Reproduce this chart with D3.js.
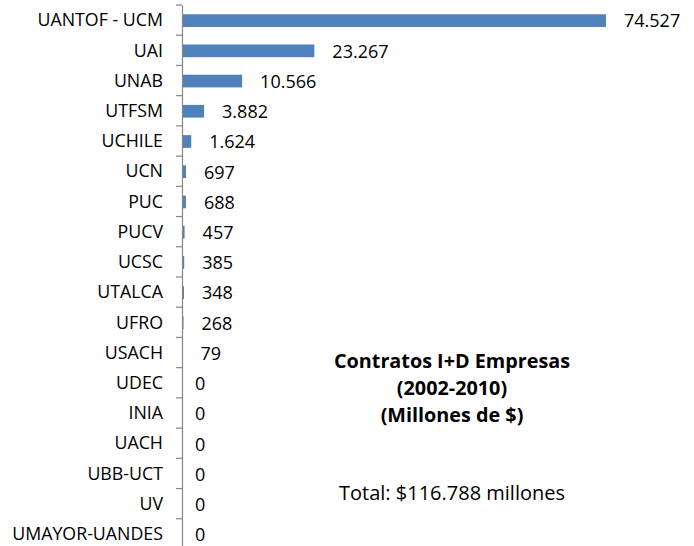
<!DOCTYPE html>
<html>
<head>
<meta charset="utf-8">
<script src="https://cdn.jsdelivr.net/npm/d3@7"></script>
<style>
  html, body { margin: 0; padding: 0; background: #fff; }
  svg { display: block; }
</style>
</head>
<body>
<svg id="chart" width="694" height="546"></svg>
<script>
const categories = ["UANTOF - UCM","UAI","UNAB","UTFSM","UCHILE","UCN","PUC","PUCV","UCSC","UTALCA","UFRO","USACH","UDEC","INIA","UACH","UBB-UCT","UV","UMAYOR-UANDES"];
const values = [74527,23267,10566,3882,1624,697,688,457,385,348,268,79,0,0,0,0,0,0];
const titleLines = ["Contratos I+D Empresas","(2002-2010)","(Millones de $)"];
const totalLabel = "Total: $116.788 millones";

const svg = d3.select("#chart");
const locale = d3.formatLocale({decimal: ",", thousands: ".", grouping: [3], currency: ["$", ""]});
const fmt = locale.format(",d");

const x = d3.scaleLinear().domain([0, d3.max(values)]).range([182, 606]);
const y = d3.scaleBand().domain(categories).range([5, 549]).padding(0);

const barH = y.bandwidth() * 0.42;

// bars
svg.append("g").selectAll("rect").data(values).join("rect")
  .attr("x", x(0))
  .attr("y", (d, i) => y(categories[i]) + (y.bandwidth() - barH) / 2 + 0.5)
  .attr("width", d => x(d) - x(0))
  .attr("height", barH)
  .attr("fill", "#4F81BD");

// axis
const axis = d3.axisLeft(y).tickSize(0).tickPadding(19);
const gAxis = svg.append("g").attr("transform", `translate(${x(0)},0)`).call(axis);
gAxis.select(".domain").attr("stroke", "#868686").attr("stroke-width", 1.2);
gAxis.selectAll(".tick text")
  .attr("font-family", "'Open Sans', sans-serif")
  .attr("font-size", 17.8)
  .attr("fill", "#000")
  .attr("dy", "0.35em");
// boundary tick marks
const bounds = categories.map(c => y(c));
gAxis.append("g").selectAll("line").data(bounds).join("line")
  .attr("x1", -6).attr("x2", 0)
  .attr("y1", d => d).attr("y2", d => d)
  .attr("stroke", "#868686").attr("stroke-width", 1.2);

// value labels
svg.append("g").selectAll("text").data(values).join("text")
  .attr("x", d => x(d) + (d > 0 ? 18 : 13))
  .attr("y", (d, i) => y(categories[i]) + y.bandwidth() / 2 + 1)
  .attr("dy", "0.35em")
  .attr("font-family", "'Open Sans', sans-serif")
  .attr("font-size", 18)
  .attr("fill", "#000")
  .text(d => fmt(d));

// title
svg.append("text")
  .attr("x", 452).attr("y", 368)
  .attr("text-anchor", "middle")
  .attr("font-family", "'Open Sans', sans-serif")
  .attr("font-weight", "bold")
  .attr("font-size", 19.8)
  .attr("fill", "#000")
  .selectAll("tspan").data(titleLines).join("tspan")
  .attr("x", 452)
  .attr("dy", (d, i) => i === 0 ? 0 : 27)
  .text(d => d);

svg.append("text")
  .attr("x", 452).attr("y", 500)
  .attr("text-anchor", "middle")
  .attr("font-family", "'Open Sans', sans-serif")
  .attr("font-size", 20)
  .attr("fill", "#000")
  .text(totalLabel);
</script>
</body>
</html>
